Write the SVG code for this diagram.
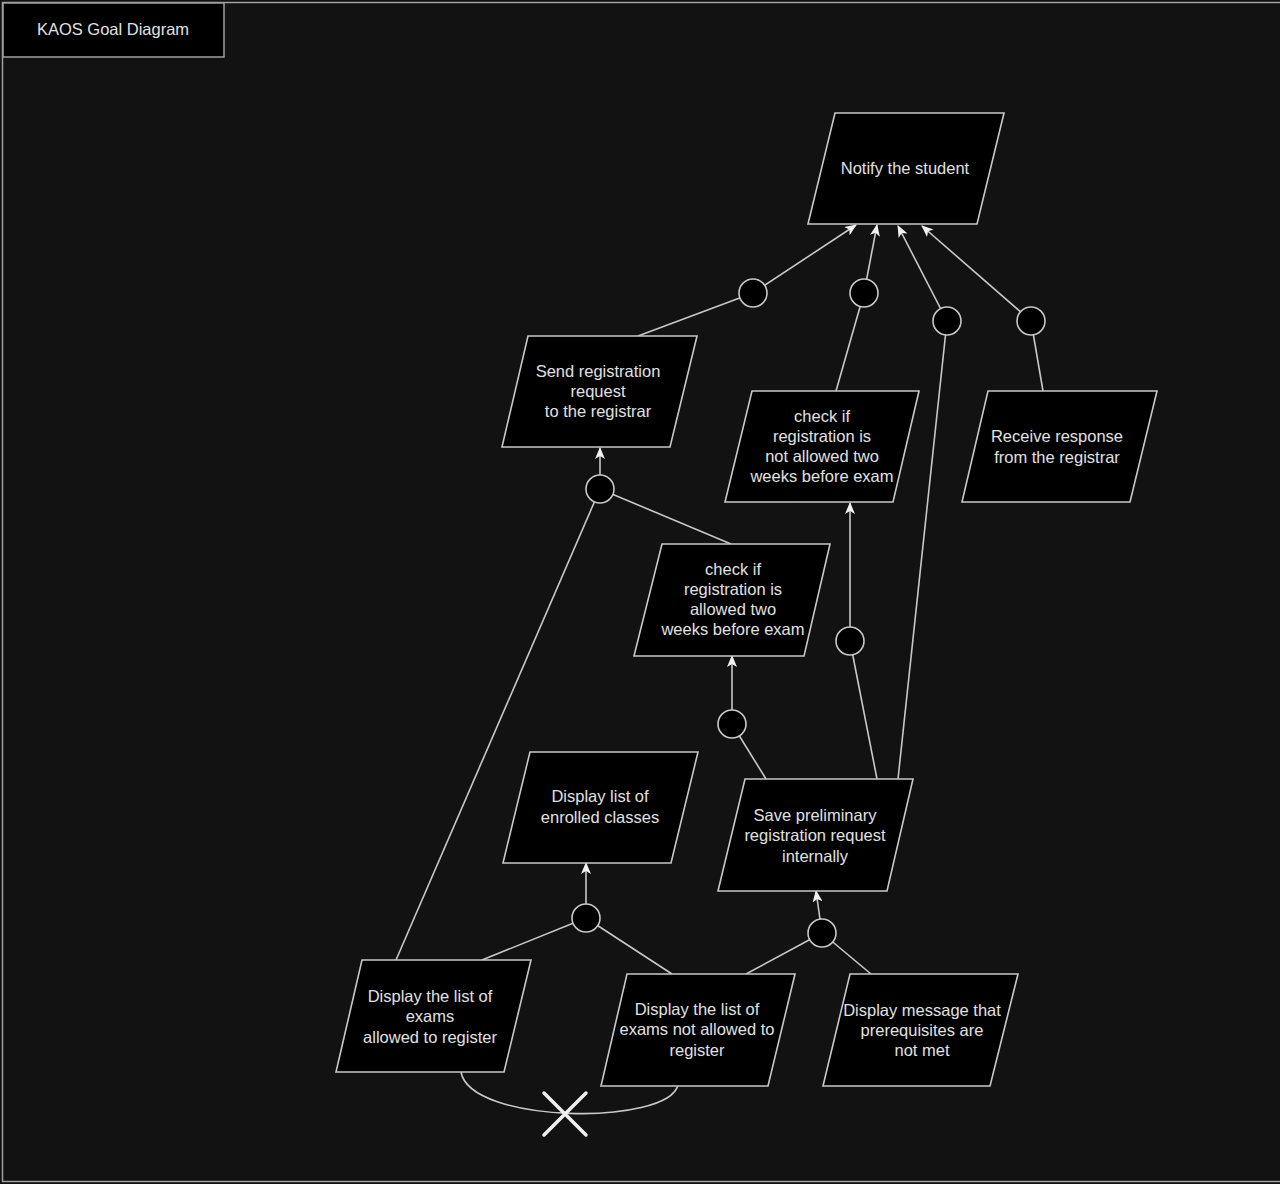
<svg xmlns="http://www.w3.org/2000/svg" width="1280" height="1184" viewBox="0 0 1280 1184">
<defs>
<style>
.goal{fill:#000;stroke:#c8c8c8;stroke-width:1.6}
.ref{fill:#000;stroke:#c8c8c8;stroke-width:1.6}
.ln{fill:none;stroke:#c8c8c8;stroke-width:1.6}
.ar{fill:none;stroke:#c8c8c8;stroke-width:1.6;marker-end:url(#arr)}
text{font-family:"Liberation Sans",Arial,Helvetica,sans-serif;font-size:16.5px;fill:#e0e0e0;text-anchor:middle}
</style>
<marker id="arr" viewBox="0 0 12 10" refX="11" refY="5" markerWidth="12" markerHeight="10" markerUnits="userSpaceOnUse" orient="auto">
<path d="M0,0 L12,5 L0,10 L3,5 z" fill="#f0f0f0"/>
</marker>
</defs>
<rect x="0" y="0" width="1280" height="1184" fill="#121212"/>
<rect x="2.5" y="2.5" width="1290" height="1179" fill="none" stroke="#a0a0a0" stroke-width="1.5"/>
<g id="title">
<rect x="3" y="3" width="221" height="54" fill="#000" stroke="#a0a0a0" stroke-width="1.5"/>
<text x="113" y="35">KAOS Goal Diagram</text>
</g>
<g id="connectors">
<line class="ln" x1="638" y1="336" x2="753" y2="293"/>
<line class="ar" x1="753" y1="293" x2="856" y2="225"/>
<line class="ln" x1="836" y1="391" x2="864" y2="293"/>
<line class="ar" x1="864" y1="293" x2="877" y2="225"/>
<line class="ln" x1="898" y1="779" x2="947" y2="321"/>
<line class="ar" x1="947" y1="321" x2="898" y2="226"/>
<line class="ln" x1="1043" y1="391" x2="1031" y2="321"/>
<line class="ar" x1="1031" y1="321" x2="922" y2="226"/>
<line class="ln" x1="396" y1="960" x2="600" y2="489"/>
<line class="ln" x1="731" y1="544" x2="600" y2="489"/>
<line class="ar" x1="600" y1="489" x2="600" y2="448"/>
<line class="ln" x1="877" y1="779" x2="850" y2="641"/>
<line class="ar" x1="850" y1="641" x2="850" y2="503"/>
<line class="ln" x1="766" y1="779" x2="732" y2="724"/>
<line class="ar" x1="732" y1="724" x2="732" y2="656"/>
<line class="ln" x1="482" y1="960" x2="586" y2="918"/>
<line class="ln" x1="672" y1="974" x2="586" y2="918"/>
<line class="ar" x1="586" y1="918" x2="586" y2="863"/>
<line class="ln" x1="746" y1="974" x2="822" y2="933"/>
<line class="ln" x1="871" y1="974" x2="822" y2="933"/>
<line class="ar" x1="822" y1="933" x2="816" y2="891"/>
<path class="ln" d="M461,1072 C470,1124 668,1126 678,1085"/>
<path d="M544,1093 L586,1135 M586,1093 L544,1135" stroke="#f0f0f0" stroke-width="3.5" stroke-linecap="round" fill="none"/>
</g>
<g id="refinements">
<circle class="ref" cx="753" cy="293" r="14"/>
<circle class="ref" cx="864" cy="293" r="14"/>
<circle class="ref" cx="947" cy="321" r="14"/>
<circle class="ref" cx="1031" cy="321" r="14"/>
<circle class="ref" cx="600" cy="489" r="14"/>
<circle class="ref" cx="850" cy="641" r="14"/>
<circle class="ref" cx="732" cy="724" r="14"/>
<circle class="ref" cx="586" cy="918" r="14"/>
<circle class="ref" cx="822" cy="933" r="14"/>
</g>
<g id="notify">
<polygon class="goal" points="835,113 1004,113 977,224 808,224"/>
<text x="905" y="174">Notify the student</text>
</g>
<g id="send">
<polygon class="goal" points="528,336 697,336 670,447 502,447"/>
<text x="598" y="377">Send registration</text>
<text x="598" y="397">request</text>
<text x="598" y="417">to the registrar</text>
</g>
<g id="checkNotAllowed">
<polygon class="goal" points="752,391 919,391 893,502 725,502"/>
<text x="822" y="422">check if</text>
<text x="822" y="442">registration is</text>
<text x="822" y="462">not allowed two</text>
<text x="822" y="482">weeks before exam</text>
</g>
<g id="receive">
<polygon class="goal" points="988,391 1157,391 1130,502 962,502"/>
<text x="1057" y="442">Receive response</text>
<text x="1057" y="463">from the registrar</text>
</g>
<g id="checkAllowed">
<polygon class="goal" points="662,544 830,544 804,656 634,656"/>
<text x="733" y="575">check if</text>
<text x="733" y="595">registration is</text>
<text x="733" y="615">allowed two</text>
<text x="733" y="635">weeks before exam</text>
</g>
<g id="enrolled">
<polygon class="goal" points="530,752 698,752 671,863 503,863"/>
<text x="600" y="802">Display list of</text>
<text x="600" y="823">enrolled classes</text>
</g>
<g id="save">
<polygon class="goal" points="745,779 913,779 887,891 718,891"/>
<text x="815" y="821">Save preliminary</text>
<text x="815" y="841">registration request</text>
<text x="815" y="862">internally</text>
</g>
<g id="examsAllowed">
<polygon class="goal" points="362,960 531,960 504,1072 336,1072"/>
<text x="430" y="1002">Display the list of</text>
<text x="430" y="1022">exams</text>
<text x="430" y="1043">allowed to register</text>
</g>
<g id="examsNotAllowed">
<polygon class="goal" points="627,974 795,974 768,1086 601,1086"/>
<text x="697" y="1015">Display the list of</text>
<text x="697" y="1035">exams not allowed to</text>
<text x="697" y="1056">register</text>
</g>
<g id="prereq">
<polygon class="goal" points="850,974 1018,974 990,1086 823,1086"/>
<text x="922" y="1016">Display message that</text>
<text x="922" y="1036">prerequisites are</text>
<text x="922" y="1056">not met</text>
</g>
</svg>
